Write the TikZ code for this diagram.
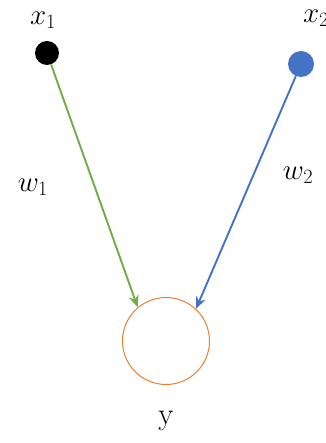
\RequirePackage{fix-cm}
\documentclass[tikz,border=0pt]{standalone}
\usetikzlibrary{arrows.meta}
\definecolor{ogreen}{HTML}{70AD47}
\definecolor{oblue}{HTML}{4472C4}
\definecolor{oorange}{HTML}{ED7D31}
\begin{document}
\begin{tikzpicture}[x=1pt,y=-1pt,
  lbl/.style={font=\fontsize{29}{34}\selectfont, inner sep=0pt},
  conn/.style={line width=1.9pt, -{Stealth[length=12pt,width=10pt]}}]
\useasboundingbox (0,0) rectangle (325,443);
\node[circle, fill=black, minimum size=24pt, inner sep=0pt] (x1) at (47,53) {};
\node[circle, fill=oblue, minimum size=26pt, inner sep=0pt] (x2) at (301,64) {};
\node[circle, draw=oorange, line width=1pt, minimum size=87pt, inner sep=0pt] (y) at (166,341) {};
\node[lbl] (lx1) at (43,20) {$x_1$};
\node[lbl] (lx2) at (316,18) {$x_2$};
\node[lbl] (lw1) at (33,187) {$w_1$};
\node[lbl] (lw2) at (298,175) {$w_2$};
\node[lbl, font=\fontsize{31}{36}\selectfont] (ly) at (166,421) {y};
\draw[conn, ogreen] (x1) -- (y.130);
\draw[conn, oblue] (x2) -- (y.47);
\end{tikzpicture}
\end{document}
